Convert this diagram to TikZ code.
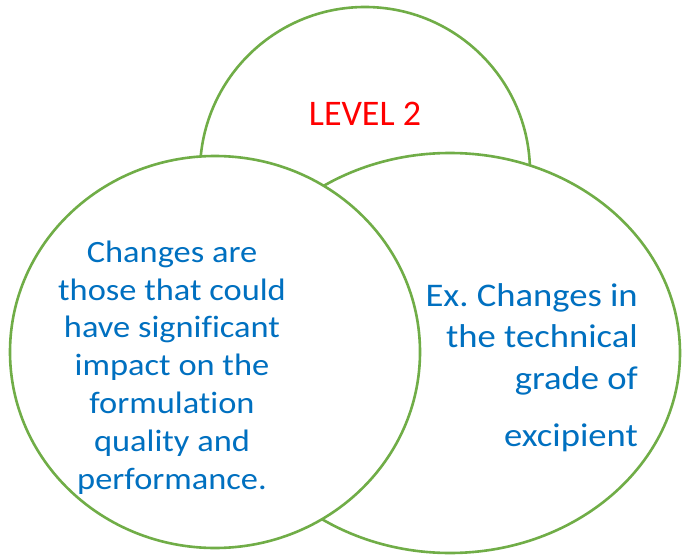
\documentclass[tikz,border=0pt]{standalone}
\usepackage{fontspec}
\setmainfont{Carlito}[Ligatures=NoCommon]
\newfontfamily\widefont{Carlito}[FakeStretch=1.11,Ligatures=NoCommon]
\usetikzlibrary{shapes.geometric}
\definecolor{ringgreen}{HTML}{70AD47}
\definecolor{textblue}{HTML}{0070C0}
\begin{document}
\begin{tikzpicture}[x=1pt,y=-1pt,
  ring/.style={ellipse,draw=ringgreen,line width=2.6pt,fill=white,inner sep=0pt},
  bodytext/.style={text=textblue,inner sep=0pt}]
  \useasboundingbox (0,0) rectangle (682,556);
  % three overlapping rings, drawn back to front
  \node[ring,minimum width=330pt,minimum height=330pt] (top) at (365,172) {};
  \node[ring,minimum width=460pt,minimum height=400pt] (right) at (450,353) {};
  \node[ring,minimum width=410pt,minimum height=392pt] (left) at (215,352) {};
  % labels (a multi-line node's base is its last baseline)
  \node[text=red,inner sep=0pt,font=\fontsize{36}{40}\selectfont,anchor=base] (title) at (365,126) {LEVEL 2};
  \node[bodytext,align=center,anchor=base,font=\widefont\fontsize{31}{37.8}\selectfont] (lefttext) at (172,489)
    {Changes are\\those that could\\have significant\\impact on the\\formulation\\quality and\\performance.};
  \node[bodytext,align=right,anchor=base east,font=\widefont\fontsize{33}{41.5}\selectfont] (righttext) at (638,446)
    {Ex.\ Changes in\\the technical\\grade of\\[15.5pt]excipient};
\end{tikzpicture}
\end{document}
